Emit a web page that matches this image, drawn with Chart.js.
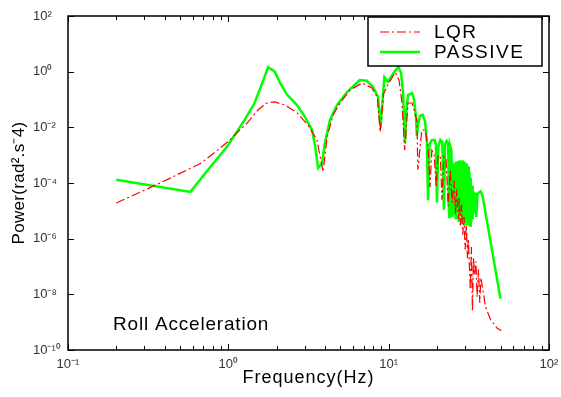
<!DOCTYPE html>
<html>
<head>
<meta charset="utf-8">
<title>Roll Acceleration</title>
<script src="https://cdn.jsdelivr.net/npm/chart.js@4.4.1/dist/chart.umd.min.js"></script>
<style>
  html, body { margin: 0; padding: 0; background: #fff; }
  canvas { display: block; }
</style>
</head>
<body>
<canvas id="rollChart" width="561" height="397"></canvas>
<script>
"use strict";

// Values (frequency in Hz, power in rad^2.s^-4)
const seriesNames = ["LQR", "PASSIVE"];

const lqrFreq = [
    0.2, 0.375, 0.67, 0.89, 1.02, 1.31, 1.53, 1.74, 1.95, 2.26,
    2.69, 3.14, 3.57, 3.9, 4.13, 4.5, 4.98, 5.74, 6.82, 7.87,
    8.5, 8.85, 9.3, 10.0, 10.4, 11.0, 11.6, 12.1, 12.6, 13.2,
    14.0, 15.0, 15.2, 16.1, 16.9, 17.6, 18.1, 18.6, 19.2, 19.8,
    20.3, 21.0, 21.5, 22.1, 22.8, 23.5, 24.2, 24.9, 25.6, 26.1,
    26.6, 27.1, 27.6, 28.0, 28.5, 29.0, 29.5, 30.0, 30.5, 31.0,
    31.4, 32.3, 32.8, 33.3, 33.8, 34.4, 35.0, 35.6, 36.3, 37.0,
    37.6, 40.2, 43.3, 47.5, 50.5
];
const lqrPower = [
    1.9e-5, 1e-4, 5e-4, 1.8e-3, 3.5e-3, 0.0143, 0.042, 0.075, 0.082, 0.063,
    0.033, 0.012, 3.5e-3, 2.5e-4, 4.5e-3, 0.028, 0.075, 0.22, 0.39, 0.26,
    0.12, 6.8e-3, 0.16, 0.4, 0.55, 0.95, 0.5, 0.08, 1.5e-3, 0.075,
    0.075, 0.018, 3e-4, 8e-3, 8e-3, 2e-3, 7e-5, 1.5e-3, 1.1e-3, 7e-5,
    9e-4, 1e-3, 2.5e-5, 9e-4, 7e-4, 1.5e-5, 3e-4, 2e-5, 1.2e-4, 8e-6,
    6e-5, 5e-6, 3e-5, 3e-6, 1.7e-5, 1.4e-6, 6e-6, 4e-7, 3e-6, 2e-7,
    1e-6, 1.5e-8, 5e-7, 2.5e-9, 2e-7, 5e-8, 1.5e-7, 8e-9, 8e-8, 5e-9,
    4e-8, 3.5e-9, 1.2e-9, 6e-10, 5e-10
];

const passiveFreq = [
    0.2, 0.58, 0.77, 0.98, 1.24, 1.45, 1.6, 1.77, 1.95, 2.1,
    2.32, 2.68, 3.0, 3.33, 3.48, 3.63, 3.84, 4.0, 4.3, 4.76,
    5.5, 6.6, 7.3, 8.0, 8.6, 8.9, 9.2, 9.4, 9.9, 10.5,
    11.0, 11.5, 11.95, 12.3, 12.5, 12.65, 12.9, 13.2, 14.0, 14.4,
    14.8, 15.0, 15.25, 15.7, 16.3, 16.9, 17.3, 17.6, 18.0, 18.6,
    19.3, 19.7, 20.0, 20.4, 21.0, 21.6, 22.1, 22.5, 23.0, 23.5,
    23.8, 24.1, 24.6, 25.0, 25.3, 25.6, 25.9, 26.2, 26.5, 26.8,
    27.1, 27.4, 27.7, 28.0, 28.3, 28.6, 28.9, 29.2, 29.5, 29.8,
    30.1, 30.4, 30.7, 31.0, 31.3, 31.6, 31.9, 32.2, 32.5, 32.8,
    33.1, 33.4, 33.8, 34.2, 34.7, 35.2, 35.8, 36.5, 37.4, 38.5,
    49.8
];
const passivePower = [
    1.3e-4, 4.8e-5, 3.7e-4, 2e-3, 0.0155, 0.07, 0.3, 1.45, 1.0, 0.4,
    0.15, 0.063, 0.024, 8e-3, 2e-3, 3.5e-4, 5e-4, 2.7e-3, 0.018, 0.063,
    0.186, 0.5, 0.47, 0.28, 0.12, 0.01, 0.12, 0.64, 0.43, 0.75,
    1.1, 1.5, 0.9, 0.17, 0.012, 2.7e-3, 0.04, 0.145, 0.17, 0.1,
    0.023, 5e-3, 0.013, 0.026, 0.028, 0.0155, 3e-3, 2.4e-5, 2.5e-3, 3.5e-3,
    3.5e-3, 2.5e-3, 2e-5, 2e-3, 3.5e-3, 3e-3, 1.1e-5, 2.5e-3, 3.2e-3, 2.5e-3,
    6e-6, 2.3e-3, 1.5e-3, 6e-6, 5e-4, 8e-6, 5.5e-4, 5e-6, 6e-4, 1e-5,
    6e-4, 4e-6, 6.5e-4, 8e-6, 6e-4, 3.5e-6, 6.5e-4, 6e-6, 6e-4, 3e-6,
    5.5e-4, 5e-6, 5e-4, 3e-6, 4e-4, 4e-6, 2.5e-4, 3e-6, 1.5e-4, 4e-6,
    8e-5, 5e-6, 5e-5, 8e-6, 4.5e-5, 6e-6, 4e-5, 4.5e-5, 5e-5, 3.5e-5,
    7e-9
];

// Axis ticks
const xDecades = [0.1, 1, 10, 100];
const yDecades = [1e-10, 1e-8, 1e-6, 1e-4, 1e-2, 1, 100];
const minorSteps = [2, 3, 4, 5, 6, 7, 8, 9];

const noteText = "Roll Acceleration";
const xTitle = "Frequency(Hz)";
const yTitle = "Power(rad\u00b2.s\u207b4)";

const fontFamily = "'Liberation Sans', Arial, Helvetica, sans-serif";

// Tick positions on the x axis: decades plus 2..9 in between
const xTickValues = [];
xDecades.forEach((d, i) => {
    xTickValues.push(d);
    if (i < xDecades.length - 1) {
        minorSteps.forEach(m => xTickValues.push(d * m));
    }
});

function isDecade(v) {
    const e = Math.log10(v);
    return Math.abs(e - Math.round(e)) < 1e-6;
}

const supChars = { "0": "\u2070", "1": "\u00b9", "2": "\u00b2", "3": "\u00b3", "4": "\u2074",
    "5": "\u2075", "6": "\u2076", "7": "\u2077", "8": "\u2078", "9": "\u2079", "-": "\u207b" };

function powerLabel(v) {
    if (!isDecade(v)) return "";
    const e = String(Math.round(Math.log10(v)));
    return "10" + e.split("").map(c => supChars[c]).join("");
}

function toPoints(xs, ys) {
    return xs.map((x, i) => ({ x: x, y: ys[i] }));
}

// Box, inward ticks, legend, note and axis titles
const decorPlugin = {
    id: "decor",
    afterDraw(chart) {
        const ctx = chart.ctx;
        const a = chart.chartArea;
        const xs = chart.scales.x;
        const ys = chart.scales.y;
        ctx.save();

        // Frame
        ctx.strokeStyle = "#000";
        ctx.lineWidth = 1.5;
        ctx.strokeRect(a.left, a.top, a.right - a.left, a.bottom - a.top);

        // Inward ticks on all four sides
        ctx.lineWidth = 1;
        ctx.beginPath();
        xs.ticks.forEach(t => {
            const px = Math.round(xs.getPixelForValue(t.value)) + 0.5;
            const len = isDecade(t.value) ? 6 : 4;
            ctx.moveTo(px, a.bottom); ctx.lineTo(px, a.bottom - len);
            ctx.moveTo(px, a.top); ctx.lineTo(px, a.top + len);
        });
        ys.ticks.forEach(t => {
            const py = Math.round(ys.getPixelForValue(t.value)) + 0.5;
            ctx.moveTo(a.left, py); ctx.lineTo(a.left + 6, py);
            ctx.moveTo(a.right, py); ctx.lineTo(a.right - 6, py);
        });
        ctx.stroke();

        // Legend box in the top right corner
        const bw = 174, bh = 49;
        const bx = a.right - 7 - bw, by = a.top + 1;
        ctx.fillStyle = "#fff";
        ctx.fillRect(bx, by, bw, bh);
        ctx.lineWidth = 1.5;
        ctx.strokeStyle = "#000";
        ctx.strokeRect(bx, by, bw, bh);

        const sets = chart.data.datasets;
        ctx.font = "19px " + fontFamily;
        ctx.textBaseline = "middle";
        ctx.textAlign = "left";
        ctx.letterSpacing = "1.5px";
        sets.forEach((ds, i) => {
            const ly = by + 15 + i * 20;
            ctx.beginPath();
            ctx.strokeStyle = ds.borderColor;
            ctx.lineWidth = ds.borderWidth;
            ctx.setLineDash(ds.borderDash || []);
            ctx.moveTo(bx + 12, ly);
            ctx.lineTo(bx + 52, ly);
            ctx.stroke();
            ctx.setLineDash([]);
            ctx.fillStyle = "#000";
            ctx.fillText(ds.label, bx + 66, ly + 1);
        });

        // Note in the lower left corner
        ctx.letterSpacing = "0.8px";
        ctx.font = "19px " + fontFamily;
        ctx.textBaseline = "alphabetic";
        ctx.fillText(noteText, a.left + 45, a.bottom - 20);

        // X axis title
        ctx.letterSpacing = "1px";
        ctx.font = "18px " + fontFamily;
        ctx.textAlign = "center";
        ctx.fillText(xTitle, (a.left + a.right) / 2, 383);

        // Y axis title
        ctx.letterSpacing = "0.3px";
        ctx.font = "17px " + fontFamily;
        ctx.textBaseline = "middle";
        ctx.translate(19, (a.top + a.bottom) / 2);
        ctx.rotate(-Math.PI / 2);
        ctx.fillText(yTitle, 0, 0);

        ctx.restore();
    }
};

const ctx = document.getElementById("rollChart");

new Chart(ctx, {
    type: "line",
    data: {
        datasets: [{
            label: seriesNames[0],
            data: toPoints(lqrFreq, lqrPower),
            borderColor: "#ff0000",
            borderWidth: 1.2,
            borderDash: [9, 3, 2, 3],
            pointRadius: 0,
            tension: 0,
            fill: false
        }, {
            label: seriesNames[1],
            data: toPoints(passiveFreq, passivePower),
            borderColor: "#00ff00",
            borderWidth: 2.5,
            pointRadius: 0,
            tension: 0,
            fill: false
        }]
    },
    options: {
        responsive: false,
        animation: false,
        layout: { padding: { top: 16, right: 12, left: 33, bottom: 0 } },
        plugins: {
            legend: { display: false },
            tooltip: { enabled: false }
        },
        scales: {
            x: {
                type: "logarithmic",
                min: 0.1,
                max: 100,
                grid: { display: false, drawTicks: false },
                border: { display: false },
                afterBuildTicks: s => { s.ticks = xTickValues.map(v => ({ value: v })); },
                afterFit: s => { s.height = 47; s.paddingLeft = 0; s.paddingRight = 0; },
                ticks: {
                    autoSkip: false,
                    maxRotation: 0,
                    padding: 7,
                    color: "#333",
                    font: { family: fontFamily, size: 13 },
                    callback: v => powerLabel(v)
                }
            },
            y: {
                type: "logarithmic",
                min: 1e-10,
                max: 100,
                grid: { display: false, drawTicks: false },
                border: { display: false },
                afterBuildTicks: s => { s.ticks = yDecades.map(v => ({ value: v })); },
                afterFit: s => { s.width = 35; s.paddingTop = 0; s.paddingBottom = 0; },
                ticks: {
                    autoSkip: false,
                    crossAlign: "far",
                    padding: 4,
                    color: "#333",
                    font: { family: fontFamily, size: 13 },
                    callback: v => powerLabel(v)
                }
            }
        }
    },
    plugins: [decorPlugin]
});
</script>
</body>
</html>
